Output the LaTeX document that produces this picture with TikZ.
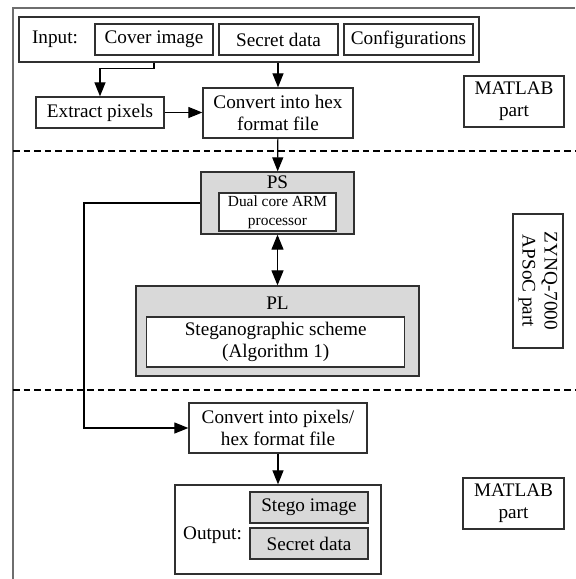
\documentclass[tikz,border=0pt]{standalone}
\usepackage{fontspec}
\setmainfont{Liberation Serif}
\usetikzlibrary{arrows.meta}
\newcommand\figfont{\fontsize{9.6}{11}\selectfont}
\newcommand\armfont{\fontsize{7.7}{9.6}\selectfont}
\definecolor{framegray}{HTML}{6E6E6E}
\definecolor{boxline}{HTML}{303030}
\definecolor{boxgray}{HTML}{D9D9D9}
\tikzset{
  sz/.style 2 args={minimum width=#1*0.5pt, minimum height=#2*0.5pt},
  box/.style={draw=boxline, line width=0.65pt, fill=white, inner sep=0pt, align=center},
  graybox/.style={box, fill=boxgray},
  arr/.style={line width=0.6pt, -{Triangle[length=7pt,width=5.5pt]}},
  dblarr/.style={line width=0.6pt, {Triangle[length=7.5pt,width=6pt]}-{Triangle[length=7.5pt,width=6pt]}},
  sepline/.style={line width=0.6pt, dash pattern=on 3.3pt off 2pt}
}
\begin{document}
\begin{tikzpicture}[x=0.5pt, y=-0.5pt, font=\figfont]
\useasboundingbox (0,0) rectangle (575,579);
\draw[framegray, line width=1pt] (13,579) -- (13,8) -- (575,8);
\foreach \yy in {151,390} \draw[sepline] (13,\yy) -- (575,\yy);

\node[box, sz={460}{45}] (inputbox) at (249,39.5) {};
\node (inputlabel) at (55,39.5) {Input:};
\node[box, sz={118}{31}] (cover) at (154,39.5) {Cover image};
\node[box, sz={119}{31}] (secret) at (278.5,39.5) {Secret data};
\node[box, sz={129}{31}] (config) at (408.5,39.5) {Configurations};
\node[box, sz={128}{31}] (extract) at (100,112.5) {Extract pixels};
\node[box, sz={150}{50}] (hexconv) at (278,113) {Convert into hex\\format file};
\node[box, sz={100}{51}] (matlabtop) at (514,101.5) {MATLAB\\part};

\node[graybox, sz={153}{62}] (ps) at (277.5,203) {};
\node (pslabel) at (277.5,182) {PS};
\node[box, sz={117}{38}, font=\armfont] (arm) at (277.5,212) {Dual core ARM\\processor};
\node[graybox, sz={283}{90}] (pl) at (277.5,331) {};
\node (pllabel) at (277.5,303) {PL};
\node[box, sz={258}{50}] (steg) at (275.7,342) {Steganographic scheme\\(Algorithm 1)};
\node[box, sz={134}{50}, rotate=-90] (zynq) at (538,281) {ZYNQ-7000\\APSoC part};

\node[box, sz={178}{50}] (pixconv) at (278,428) {Convert into pixels/\\hex format file};
\node[box, sz={206}{89}] (output) at (278,529.5) {};
\node (outputlabel) at (212.5,535) {Output:};
\node[graybox, sz={118}{31}] (stego) at (309,507.5) {Stego image};
\node[graybox, sz={118}{31}] (secretout) at (309,543.5) {Secret data};
\node[box, sz={101}{51}] (matlabbot) at (513.5,503.5) {MATLAB\\part};

\coordinate (turn) at (84,428);
\draw[arr] (inputbox.south -| cover) -- ++(0,6) -| (extract);
\draw[arr] (inputbox.south -| hexconv) -- (hexconv);
\draw[arr] (extract.east) -- (extract.east -| hexconv.west);
\draw[arr] (hexconv) -- (ps);
\draw[dblarr] (ps) -- (pl);
\draw[arr] (ps.west) -| (turn) -- (pixconv.west);
\draw[arr] (pixconv) -- (output);
\end{tikzpicture}
\end{document}
